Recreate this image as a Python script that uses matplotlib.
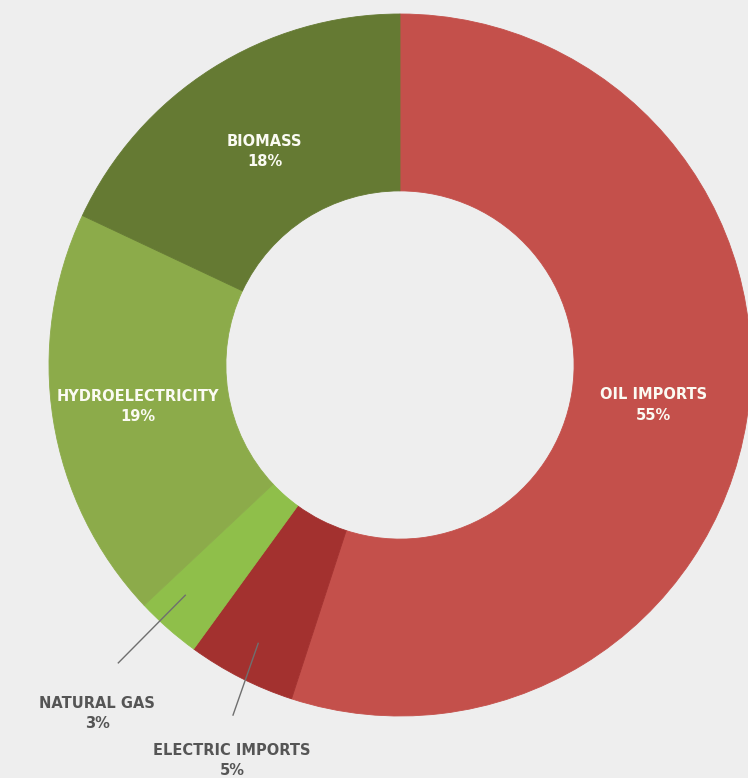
import numpy as np
import matplotlib
matplotlib.use('Agg')
import matplotlib.pyplot as plt

# energy sources, clockwise from 12 o'clock
labels = ['OIL IMPORTS', 'ELECTRIC IMPORTS', 'NATURAL GAS', 'HYDROELECTRICITY', 'BIOMASS']
shares = [55, 5, 3, 19, 18]
colors = ['#c4504b', '#a3312f', '#8fbf4a', '#8cab4a', '#657a33']
inside = [True, False, False, True, True]

bg = '#eeeeee'
W, H = 748, 778
cx, cy, R = 400, 365, 351  # donut centre / radius in pixels

fig = plt.figure(figsize=(W / 100, H / 100), dpi=100, facecolor=bg)
ax = fig.add_axes([0, 0, 1, 1])
ax.set_facecolor(bg)

wedges, _ = ax.pie(shares, colors=colors, startangle=90, counterclock=False,
                   radius=1, wedgeprops=dict(width=0.504, linewidth=0.6, edgecolor='none'))
for w, c in zip(wedges, colors):
    w.set_edgecolor(c)

ax.set_xlim(-cx / R, (W - cx) / R)
ax.set_ylim(-(H - cy) / R, cy / R)
ax.set_aspect('auto')
ax.axis('off')

# label radius inside ring, and leader line / text spots for the small slices
inner_r = {'OIL IMPORTS': 0.73, 'HYDROELECTRICITY': 0.755, 'BIOMASS': 0.72}
leader = {'NATURAL GAS': ((0.897, -133.0), (1.168, -133.4)),
          'ELECTRIC IMPORTS': ((0.89, -117.0), (1.105, -115.5))}
outside_pos = {'NATURAL GAS': (1.315, -131.0), 'ELECTRIC IMPORTS': (1.225, -113.0)}


def polar(r, deg):
    a = np.deg2rad(deg)
    return r * np.cos(a), r * np.sin(a)


for w, lab, val, ins in zip(wedges, labels, shares, inside):
    mid = (w.theta1 + w.theta2) / 2
    txt = f'{lab}\n{val}%'
    if ins:
        x, y = polar(inner_r[lab], mid)
        ax.text(x, y, txt, ha='center', va='center',
                color='#fbfbf3', fontsize=10.5, fontweight='bold', linespacing=1.45)
    else:
        (r0, a0), (r1, a1) = leader[lab]
        x0, y0 = polar(r0, a0)
        x1, y1 = polar(r1, a1)
        ax.plot([x0, x1], [y0, y1], color='#6f6f6f', lw=1.0)
        x, y = polar(*outside_pos[lab])
        ax.text(x, y, txt, ha='center', va='center',
                color='#555555', fontsize=10.5, fontweight='bold', linespacing=1.45)

plt.savefig('out.png', dpi=100, facecolor=bg)
plt.close()
